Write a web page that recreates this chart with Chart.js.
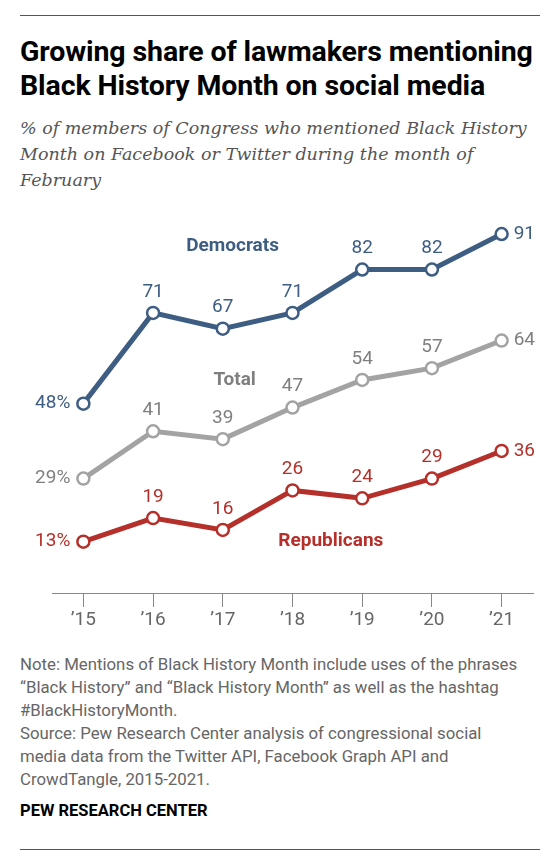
<!doctype html>
<html lang="en">
  <head>
    <meta charset="UTF-8" />
    <title>Black History Month mentions</title>
    <script src="https://cdn.jsdelivr.net/npm/chart.js"></script>
    <style>
      body { margin: 0; background: white; }
      #page { position: relative; width: 558px; height: 859px; overflow: hidden; }
      .rule { position: absolute; left: 20px; width: 520px; height: 0; border-top: 1.5px solid #555; }
      #title {
        position: absolute; left: 20px; top: 35px; width: 540px;
        font-family: Roboto, sans-serif; font-weight: bold; font-size: 28.5px;
        line-height: 34px; letter-spacing: -0.1px; color: #000;
      }
      #subtitle {
        position: absolute; left: 20px; top: 115px; width: 540px;
        font-family: "DejaVu Serif", serif; font-style: italic; font-size: 17.5px;
        line-height: 26px; color: #555;
      }
      #notes {
        position: absolute; left: 20px; top: 653px; width: 540px;
        font-family: Roboto, sans-serif; font-size: 16.8px; line-height: 23px; color: #666;
      }
      #brand {
        position: absolute; left: 20px; top: 801px;
        font-family: Roboto, sans-serif; font-weight: bold; font-size: 16.5px; color: #000;
      }
      #chart { position: absolute; left: 0; top: 190px; }
    </style>
  </head>
  <body>
    <div id="page">
      <div class="rule" style="top: 15px"></div>
      <div id="title">Growing share of lawmakers mentioning<br />Black History Month on social media</div>
      <div id="subtitle">% of members of Congress who mentioned Black History<br />Month on Facebook or Twitter during the month of<br />February</div>
      <canvas id="chart" width="558" height="450"></canvas>
      <div id="notes">Note: Mentions of Black History Month include uses of the phrases<br />“Black History” and “Black History Month” as well as the hashtag<br />#BlackHistoryMonth.<br />Source: Pew Research Center analysis of congressional social<br />media data from the Twitter API, Facebook Graph API and<br />CrowdTangle, 2015-2021.</div>
      <div id="brand">PEW RESEARCH CENTER</div>
      <div class="rule" style="top: 849px"></div>
    </div>

    <script>
      const years = ["’15", "’16", "’17", "’18", "’19", "’20", "’21"];
      const democrats = [48, 71, 67, 71, 82, 82, 91];
      const total = [29, 41, 39, 47, 54, 57, 64];
      const republicans = [13, 19, 16, 26, 24, 29, 36];
      const seriesNames = ["Democrats", "Total", "Republicans"];

      const colors = ["#3d5d82", "#a3a3a3", "#b5302a"];
      const labelColors = ["#3d5d82", "#7f7f7f", "#b5302a"];
      // where the series names sit, in axis units
      const namePos = [
        { x: 2.14, y: 87.8 },
        { x: 2.17, y: 54 },
        { x: 3.55, y: 13 },
      ];

      const numFont = "19px Roboto, sans-serif";

      const labelPlugin = {
        id: "labels",
        afterDatasetsDraw(chart) {
          const ctx = chart.ctx;
          ctx.save();
          chart.data.datasets.forEach((ds, d) => {
            const meta = chart.getDatasetMeta(d);
            ctx.fillStyle = labelColors[d];
            ctx.font = numFont;
            ctx.textBaseline = "middle";
            meta.data.forEach((pt, i) => {
              const v = ds.data[i].y;
              if (i === 0) {
                ctx.textAlign = "right";
                ctx.fillText(v + "%", pt.x - 13, pt.y);
              } else if (i === ds.data.length - 1) {
                ctx.textAlign = "left";
                ctx.fillText(v, pt.x + 12, pt.y);
              } else {
                ctx.textAlign = "center";
                ctx.fillText(v, pt.x, pt.y - 21);
              }
            });
            ctx.font = "bold 19px Roboto, sans-serif";
            ctx.textAlign = "center";
            ctx.fillText(
              seriesNames[d],
              chart.scales.x.getPixelForValue(namePos[d].x),
              chart.scales.y.getPixelForValue(namePos[d].y)
            );
          });
          ctx.restore();
        },
      };

      function series(vals, d) {
        return {
          label: seriesNames[d],
          data: vals.map((v, i) => ({ x: i, y: v })),
          borderColor: colors[d],
          borderWidth: 5,
          pointRadius: 6,
          pointBorderWidth: 2.5,
          pointBackgroundColor: "#fff",
          pointBorderColor: colors[d],
          tension: 0,
          clip: false,
        };
      }

      new Chart(document.getElementById("chart"), {
        type: "line",
        data: {
          datasets: [series(democrats, 0), series(total, 1), series(republicans, 2)],
        },
        options: {
          responsive: false,
          animation: false,
          devicePixelRatio: 1,
          layout: { padding: { left: 52, right: 25, top: 7, bottom: 0 } },
          plugins: { legend: { display: false }, tooltip: { enabled: false } },
          scales: {
            x: {
              type: "linear",
              min: -0.45,
              max: years.length - 1 + 0.45,
              afterBuildTicks: (s) => {
                s.ticks = years.map((_, i) => ({ value: i }));
              },
              afterFit: (s) => {
                s.height = 47;
              },
              border: { color: "#888", width: 1 },
              grid: { drawOnChartArea: false, drawTicks: true, tickLength: 14, color: "#888" },
              ticks: {
                padding: 2,
                color: "#666",
                font: { family: "Roboto, sans-serif", size: 19 },
                callback: (v) => years[v],
                autoSkip: false,
                maxRotation: 0,
              },
            },
            y: { display: false, min: 0, max: 100 },
          },
        },
        plugins: [labelPlugin],
      });
    </script>
  </body>
</html>
